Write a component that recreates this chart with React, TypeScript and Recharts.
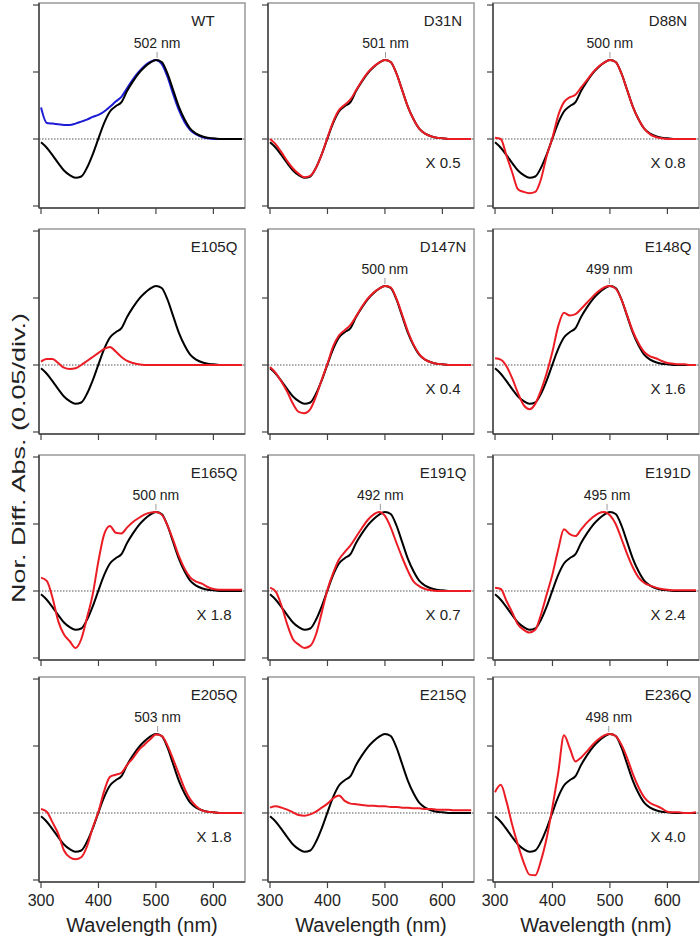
import {
    LineChart,
    Line,
    XAxis,
    YAxis,
    ReferenceLine,
    ReferenceArea,
    ReferenceDot,
} from 'recharts'

// wavelength grid (nm)
const wavelengths = [
    300, 310, 320, 330, 340, 350, 360, 370, 380, 390,
    400, 410, 420, 430, 440, 450, 460, 470, 480, 490,
    500, 510, 520, 530, 540, 550, 560, 570, 580, 590,
    600, 610, 620, 630, 640, 650,
]

// WT difference spectrum (black, repeated in every panel)
const wtSpectrum = [
    -0.05, -0.13, -0.24, -0.36, -0.47, -0.54, -0.58, -0.56, -0.43, -0.23,
    0.01, 0.24, 0.41, 0.49, 0.55, 0.72, 0.86, 0.98, 1.07, 1.14,
    1.18, 1.15, 0.98, 0.73, 0.48, 0.29, 0.15, 0.08, 0.04, 0.02,
    0.01, 0, 0, 0, 0, 0,
]

// WT second trace (blue)
const wtBlue = [
    0.47, 0.24, 0.23, 0.22, 0.21, 0.21, 0.23, 0.26, 0.29, 0.33,
    0.36, 0.41, 0.48, 0.56, 0.63, 0.76, 0.89, 1.0, 1.09, 1.15,
    1.18, 1.12, 0.93, 0.67, 0.43, 0.25, 0.13, 0.07, 0.03, 0.01,
    0, 0, 0, 0, 0, 0,
]

const d31n = [
    0.0, -0.08, -0.2, -0.33, -0.44, -0.52, -0.57, -0.55, -0.43, -0.23,
    0.02, 0.26, 0.43, 0.51, 0.59, 0.73, 0.87, 0.99, 1.08, 1.14,
    1.18, 1.15, 0.98, 0.73, 0.48, 0.29, 0.15, 0.08, 0.04, 0.02,
    0.01, 0, 0, 0, 0, 0,
]

const d88n = [
    0.02, 0.0, -0.25, -0.5, -0.75, -0.79, -0.81, -0.79, -0.6, -0.25,
    0.02, 0.35, 0.55, 0.62, 0.66, 0.77, 0.88, 0.99, 1.08, 1.14,
    1.18, 1.15, 0.98, 0.73, 0.48, 0.29, 0.15, 0.07, 0.03, 0.01,
    0, 0, 0, 0, 0, 0,
]

const e105q = [
    0.05, 0.09, 0.09, 0.03, -0.04, -0.06, -0.05, 0.0, 0.06, 0.12,
    0.18, 0.24, 0.27, 0.2, 0.12, 0.06, 0.03, 0.01, 0, 0,
    0, 0, 0, 0, 0, 0, 0, 0, 0, 0,
    0, 0, 0, 0, 0, 0,
]

const d147n = [
    -0.03, -0.12, -0.25, -0.4, -0.58, -0.7, -0.72, -0.66, -0.47, -0.22,
    0.02, 0.28, 0.44, 0.52, 0.6, 0.73, 0.87, 0.99, 1.08, 1.14,
    1.18, 1.16, 0.99, 0.75, 0.5, 0.3, 0.16, 0.08, 0.04, 0.02,
    0.01, 0, 0, 0, 0, 0,
]

const e148q = [
    0.1, 0.08, -0.02, -0.2, -0.42, -0.6, -0.66, -0.58, -0.38, -0.12,
    0.2, 0.58, 0.78, 0.74, 0.76, 0.84, 0.93, 1.02, 1.1, 1.16,
    1.18, 1.14, 0.98, 0.74, 0.5, 0.32, 0.19, 0.13, 0.1, 0.06,
    0.03, 0.02, 0.01, 0.01, 0, 0,
]

const e165q = [
    0.2, 0.15, -0.1, -0.45, -0.65, -0.75, -0.85, -0.72, -0.4, -0.05,
    0.45, 0.85, 0.97, 0.87, 0.86, 0.95, 1.03, 1.09, 1.14, 1.17,
    1.18, 1.14, 0.98, 0.76, 0.52, 0.33, 0.2, 0.14, 0.11, 0.06,
    0.03, 0.02, 0.02, 0.02, 0.02, 0.02,
]

const e191q = [
    0.05, -0.01, -0.22, -0.5, -0.72, -0.8, -0.85, -0.82, -0.65, -0.32,
    0.02, 0.27, 0.47, 0.58, 0.68, 0.81, 0.94, 1.06, 1.14, 1.18,
    1.12, 0.95, 0.72, 0.5, 0.3, 0.14, 0.07, 0.03, 0.01, 0,
    0, 0, 0, 0, 0, 0,
]

const e191d = [
    0.05, 0.03, -0.15, -0.32, -0.5, -0.58, -0.62, -0.58, -0.35, -0.05,
    0.25, 0.62, 0.92, 0.85, 0.82, 0.92, 1.02, 1.1, 1.16, 1.18,
    1.13, 1.0, 0.78, 0.55, 0.35, 0.2, 0.12, 0.08, 0.05, 0.03,
    0.02, 0.01, 0.01, 0.01, 0.01, 0.01,
]

const e205q = [
    0.06, 0.02, -0.14, -0.31, -0.56, -0.66, -0.69, -0.66, -0.5, -0.22,
    0.02, 0.33, 0.54, 0.57, 0.6, 0.72, 0.82, 0.94, 1.02, 1.1,
    1.17, 1.15, 1.01, 0.8, 0.58, 0.36, 0.2, 0.1, 0.04, 0.02,
    0.01, 0, 0, 0, 0, 0,
]

const e215q = [
    0.08, 0.1, 0.08, 0.05, 0.01, -0.03, -0.04, -0.02, 0.02, 0.08,
    0.14, 0.22, 0.26, 0.18, 0.14, 0.13, 0.12, 0.11, 0.11, 0.1,
    0.1, 0.09, 0.09, 0.08, 0.08, 0.07, 0.07, 0.06, 0.06, 0.05,
    0.05, 0.05, 0.04, 0.04, 0.04, 0.04,
]

const e236q = [
    0.31, 0.42, 0.17, -0.18, -0.48, -0.74, -0.92, -0.93, -0.71, -0.37,
    0.09, 0.6, 1.16, 0.97, 0.77, 0.83, 0.92, 1.02, 1.1, 1.16,
    1.18, 1.15, 1.02, 0.82, 0.58, 0.38, 0.23, 0.15, 0.11, 0.07,
    0.02, 0.01, 0.01, 0, 0, 0.01,
]

const panelNames = [
    'WT', 'D31N', 'D88N',
    'E105Q', 'D147N', 'E148Q',
    'E165Q', 'E191Q', 'E191D',
    'E205Q', 'E215Q', 'E236Q',
]
const panelSpectra = [
    wtBlue, d31n, d88n,
    e105q, d147n, e148q,
    e165q, e191q, e191d,
    e205q, e215q, e236q,
]
const peakNm: (number | null)[] = [
    502, 501, 500,
    null, 500, 499,
    500, 492, 495,
    503, null, 498,
]
const scaleLabels: (string | null)[] = [
    null, 'X 0.5', 'X 0.8',
    null, 'X 0.4', 'X 1.6',
    'X 1.8', 'X 0.7', 'X 2.4',
    'X 1.8', null, 'X 4.0',
]
const xTicks = [300, 400, 500, 600]
const yTicks = [-1, 0, 1, 2]
const peakLevel = 1.18

const X_DOMAIN: [number, number] = [296.5, 655]
const Y_DOMAIN: [number, number] = [-1.03, 2.03]
const BOX_LEFT = [39, 268, 493]
const BOX_TOP = [3, 229, 455, 677]
const BOX_W = 206
const BOX_H = 205
const PAD_L = 14 // room for the first tick label
const FONT = 'Arial, "Liberation Sans", sans-serif'

function PeakTag(props: any) {
    const { viewBox, text } = props
    if (!viewBox) return null
    const cx = viewBox.x + (viewBox.width || 0) / 2
    const cy = viewBox.y + (viewBox.height || 0) / 2
    return (
        <g>
            <line x1={cx} x2={cx} y1={cy - 8} y2={cy - 2} stroke="#999" strokeWidth={1} />
            <text x={cx} y={cy - 12} textAnchor="middle" fontSize={14} fill="#222" fontFamily={FONT}>
                {text}
            </text>
        </g>
    )
}

function PanelText(props: any) {
    const { viewBox, name, scale } = props
    if (!viewBox) return null
    const right = viewBox.x + viewBox.width
    const cx = name === 'WT' ? right - 42 : right - 31
    return (
        <g fontFamily={FONT} fill="#222" fontSize={15} textAnchor="middle">
            <text x={cx} y={viewBox.y + 23}>{name}</text>
            {scale && <text x={right - 31} y={viewBox.y + 165}>{scale}</text>}
        </g>
    )
}

function Panel({ index }: { index: number }) {
    const row = Math.floor(index / 3)
    const col = index % 3
    const bottomRow = row === 3
    const xAxisH = bottomRow ? 52 : 8
    const padB = bottomRow ? 4 : 0
    const isWT = index === 0
    const data = wavelengths.map((w, i) => ({
        wl: w,
        wt: wtSpectrum[i],
        other: panelSpectra[index][i],
    }))
    const peak = peakNm[index]

    return (
        <div style={{ position: 'absolute', left: BOX_LEFT[col] - 8 - PAD_L, top: BOX_TOP[row] - 2 }}>
            <LineChart
                width={PAD_L + 8 + BOX_W + 2}
                height={2 + BOX_H + xAxisH + padB}
                data={data}
                margin={{ top: 2, right: 2, bottom: padB, left: PAD_L }}
            >
                <XAxis
                    dataKey="wl"
                    type="number"
                    domain={X_DOMAIN}
                    ticks={xTicks}
                    interval={0}
                    allowDataOverflow
                    height={xAxisH}
                    tickSize={6}
                    tickMargin={7}
                    tick={{ fontSize: 16, fill: '#222', fontFamily: FONT }}
                    tickFormatter={(v: number) => (bottomRow ? String(v) : '')}
                    axisLine={{ stroke: '#444', strokeWidth: 1.5 }}
                    tickLine={{ stroke: '#444', strokeWidth: 1.2 }}
                    label={
                        bottomRow
                            ? {
                                  value: 'Wavelength (nm)',
                                  position: 'insideBottom',
                                  offset: 2,
                                  fontSize: 20,
                                  fill: '#222',
                                  fontFamily: FONT,
                              }
                            : undefined
                    }
                />
                <YAxis
                    type="number"
                    domain={Y_DOMAIN}
                    ticks={yTicks}
                    interval={0}
                    allowDataOverflow
                    width={8}
                    tickSize={6}
                    tickFormatter={() => ''}
                    axisLine={{ stroke: '#444', strokeWidth: 1.5 }}
                    tickLine={{ stroke: '#444', strokeWidth: 1.2 }}
                />
                <ReferenceArea
                    x1={X_DOMAIN[0]}
                    x2={X_DOMAIN[1]}
                    y1={Y_DOMAIN[0]}
                    y2={Y_DOMAIN[1]}
                    fill="none"
                    fillOpacity={0}
                    stroke="#999"
                    strokeWidth={1.5}
                    label={<PanelText name={panelNames[index]} scale={scaleLabels[index]} />}
                />
                <ReferenceLine y={0} stroke="#555" strokeDasharray="1.5 1.5" strokeWidth={1} />
                {isWT && (
                    <Line
                        dataKey="other"
                        type="monotone"
                        stroke="#1c1cd6"
                        strokeWidth={2}
                        dot={false}
                        isAnimationActive={false}
                    />
                )}
                <Line
                    dataKey="wt"
                    type="monotone"
                    stroke="#000"
                    strokeWidth={2}
                    dot={false}
                    isAnimationActive={false}
                />
                {!isWT && (
                    <Line
                        dataKey="other"
                        type="monotone"
                        stroke="#ec1c24"
                        strokeWidth={2}
                        dot={false}
                        isAnimationActive={false}
                    />
                )}
                {peak !== null && (
                    <ReferenceDot
                        x={peak}
                        y={peakLevel}
                        r={1}
                        fill="none"
                        stroke="none"
                        label={<PeakTag text={`${peak} nm`} />}
                    />
                )}
            </LineChart>
        </div>
    )
}

export default function App() {
    return (
        <div style={{ position: 'absolute', left: 0, top: 0, width: 700, height: 938, background: '#fff' }}>
            {panelNames.map((_, i) => (
                <Panel key={i} index={i} />
            ))}
            <svg width={30} height={938} style={{ position: 'absolute', left: 0, top: 0 }}>
                <text
                    x={25}
                    y={458}
                    transform="rotate(-90 25 458)"
                    textAnchor="middle"
                    fontSize={19}
                    textLength={290}
                    lengthAdjust="spacingAndGlyphs"
                    fill="#222"
                    fontFamily={FONT}
                >
                    Nor. Diff. Abs. (0.05/div.)
                </text>
            </svg>
        </div>
    )
}
